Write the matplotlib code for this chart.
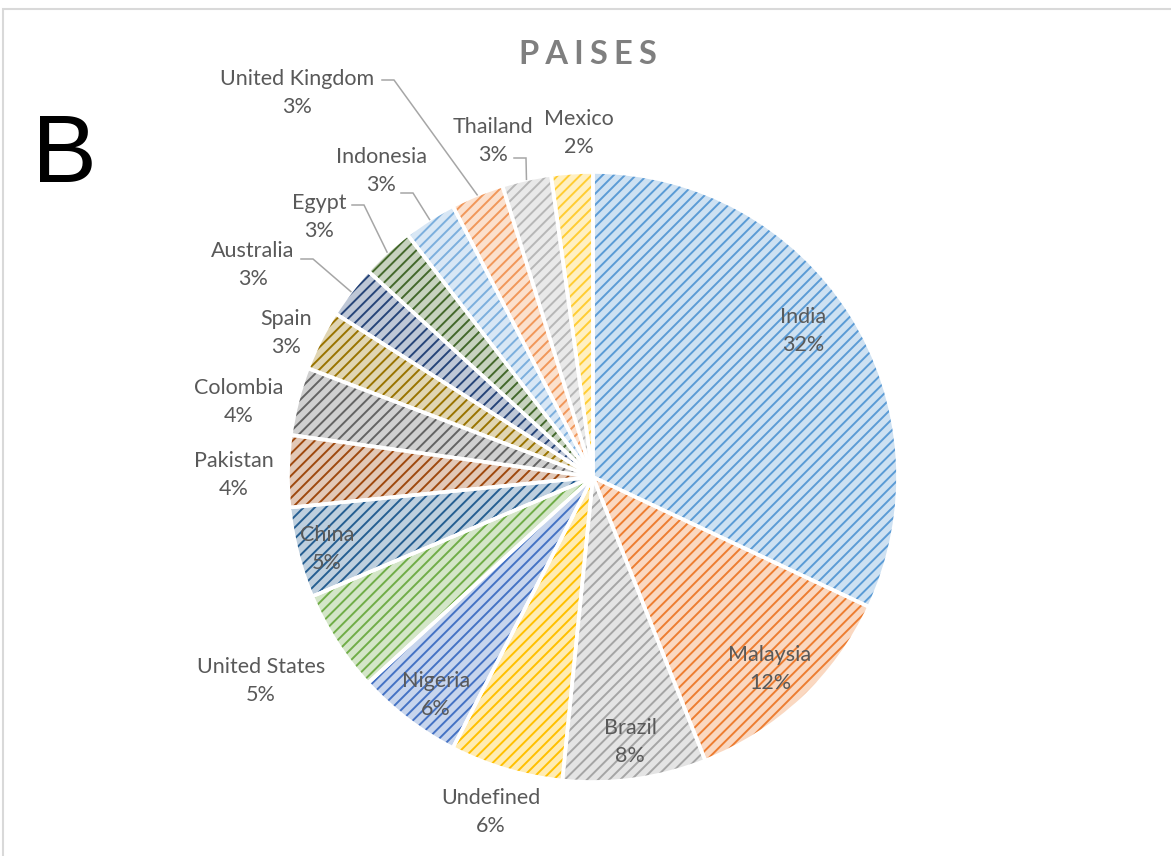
import numpy as np
import matplotlib
matplotlib.use("Agg")
import matplotlib.pyplot as plt
from matplotlib.patches import Rectangle
from matplotlib.colors import to_rgb

# data
countries = ["India", "Malaysia", "Brazil", "Undefined", "Nigeria", "United States",
             "China", "Pakistan", "Colombia", "Spain", "Australia", "Egypt",
             "Indonesia", "United Kingdom", "Thailand", "Mexico"]
counts = [160, 60, 38, 30, 28, 27, 24, 19, 18, 16, 14, 14, 14, 14, 13, 11]
colors = ["#5B9BD5", "#ED7D31", "#A5A5A5", "#FFC000", "#4472C4", "#70AD47",
          "#255E91", "#9E480E", "#636363", "#997300", "#264478", "#43682B",
          "#7CAFDD", "#F1975A", "#B7B7B7", "#FFCD33"]

# label centres in pixels (layout)
label_px = {"India": (803, 331), "Malaysia": (770, 669), "Brazil": (630, 742),
            "Undefined": (491, 812), "Nigeria": (436, 695), "United States": (261, 681),
            "China": (327, 549), "Pakistan": (234, 475), "Colombia": (239, 402),
            "Spain": (286, 333), "Australia": (253, 265), "Egypt": (319, 217),
            "Indonesia": (381, 171), "United Kingdom": (297, 93), "Thailand": (493, 141),
            "Mexico": (579, 133)}
# leader line starts in pixels
leader_px = {"Australia": (301, 259), "Egypt": (352, 205), "Indonesia": (401, 193),
             "United Kingdom": (382, 80), "Thailand": (514, 158)}

W, H = 1171, 856
CX, CY, R = 593, 477, 305


def px(x, y):
    return (x - CX) / R, (CY - y) / R


def tint(c, a):
    r = np.array(to_rgb(c))
    return tuple(a * r + (1 - a))


plt.rcParams["hatch.linewidth"] = 1.4
fig = plt.figure(figsize=(W / 100, H / 100), dpi=100)
ax = fig.add_axes([0, 0, 1, 1])

wedges, _ = ax.pie(counts, startangle=90, counterclock=False, radius=1,
                   colors=[tint(c, 0.3) for c in colors],
                   wedgeprops=dict(linewidth=0))
for w, c in zip(wedges, colors):
    w.set_edgecolor(c)
    w.set_hatch("///")
    w.set_linewidth(0)
ax.pie(counts, startangle=90, counterclock=False, radius=1,
       wedgeprops=dict(facecolor="none", edgecolor="white", linewidth=2.6))

total = sum(counts)
for name, v, w in zip(countries, counts, wedges):
    lx, ly = px(*label_px[name])
    ax.text(lx, ly, f"{name}\n{round(v / total * 100)}%", ha="center", va="center",
            fontsize=15.5, color="#595959", family="Lato", linespacing=1.55)
    if name in leader_px:
        sx, sy = px(*leader_px[name])
        mid = np.deg2rad((w.theta1 + w.theta2) / 2)
        ex, ey = np.cos(mid), np.sin(mid)
        ax.plot([sx, sx + 12 / R, ex], [sy, sy, ey], color="#A6A6A6", lw=1.1,
                solid_joinstyle="miter")

ax.set_xlim(-CX / R, (W - CX) / R)
ax.set_ylim((CY - H) / R, CY / R)
ax.set_aspect("auto")
ax.axis("off")

gap = "\u2009\u200a"
fig.text(588 / W, 1 - 55 / H, gap.join("PAISES"), ha="center", va="center",
         fontsize=23.5, fontweight="bold", color="#7F7F7F", family="Lato")
fig.text(64 / W, 1 - 157 / H, "B", ha="center", va="center", fontsize=70,
         color="black", family="Liberation Sans")
fig.patches.append(Rectangle((3 / W, -0.1), 1.2, 1 - 9 / H + 0.1, transform=fig.transFigure,
                             fill=False, edgecolor="#D9D9D9", lw=1.5))

fig.savefig("out.png", dpi=100)
